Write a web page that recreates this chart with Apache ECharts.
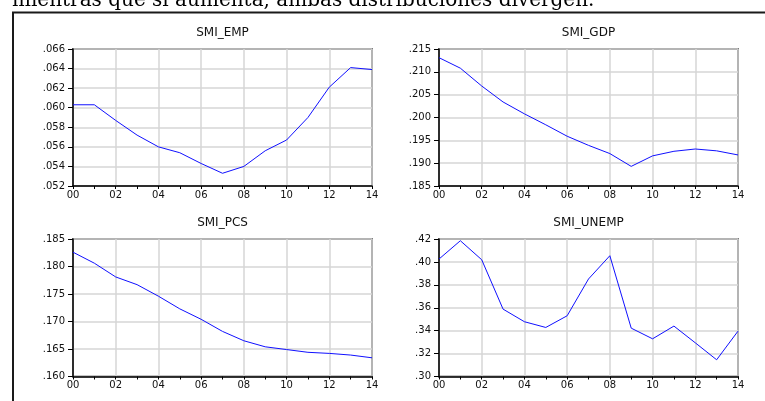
<!DOCTYPE html>
<html>
<head>
<meta charset="utf-8">
<script src="https://cdn.jsdelivr.net/npm/echarts@6/dist/echarts.min.js"></script>
<style>
html,body{margin:0;padding:0;background:#fff;}
#chart{width:765px;height:401px;}
</style>
</head>
<body>
<div id="chart"></div>
<script>
const years = ['00','01','02','03','04','05','06','07','08','09','10','11','12','13','14'];
const smiEmp = [0.0603,0.0603,0.0587,0.0572,0.0560,0.0554,0.0543,0.0533,0.0540,0.0556,0.0567,0.0590,0.0621,0.0641,0.0639];
const smiGdp = [0.2131,0.2108,0.2069,0.2034,0.2008,0.1984,0.1959,0.1939,0.1921,0.1893,0.1916,0.1926,0.1931,0.1927,0.1918];
const smiPcs = [0.1826,0.1806,0.1781,0.1767,0.1746,0.1723,0.1704,0.1682,0.1665,0.1654,0.1649,0.1644,0.1642,0.1639,0.1634];
const smiUnemp = [0.4025,0.4185,0.4019,0.3588,0.3478,0.3428,0.3530,0.3851,0.4054,0.3422,0.3329,0.3440,0.3294,0.3146,0.3396];
const panelTitles = ['SMI_EMP','SMI_GDP','SMI_PCS','SMI_UNEMP'];
const yMin = [0.052, 0.185, 0.160, 0.30];
const yMax = [0.066, 0.215, 0.185, 0.42];
const yStep = [0.002, 0.005, 0.005, 0.02];
const yDecimals = [3, 3, 3, 2];
const introText = 'mientras que si aumenta, ambas distribuciones divergen.';

const seriesData = [smiEmp, smiGdp, smiPcs, smiUnemp];
const grids = [
  {left: 73, top: 49, width: 299, height: 137},
  {left: 439, top: 49, width: 299, height: 137},
  {left: 73, top: 239, width: 299, height: 137.5},
  {left: 439, top: 239, width: 299, height: 137.5}
];
const font = 'DejaVu Sans';

const option = {
  animation: false,
  backgroundColor: '#fff',
  title: panelTitles.map((t, i) => ({
    text: t,
    left: grids[i].left + grids[i].width / 2,
    top: grids[i].top - 22,
    textAlign: 'center',
    padding: 0,
    textStyle: {fontFamily: font, fontSize: 12, fontWeight: 'normal', color: '#111'}
  })),
  grid: grids.map(g => Object.assign({show: true, borderColor: '#1a1a1a', borderWidth: 1.5, backgroundColor: 'transparent'}, g)),
  xAxis: grids.map((g, i) => ({
    type: 'category',
    gridIndex: i,
    data: years,
    boundaryGap: false,
    axisLine: {lineStyle: {color: '#000', width: 1.5}},
    axisTick: {show: true, interval: 0, length: 3, lineStyle: {color: '#000', width: 1}},
    axisLabel: {interval: 1, margin: 4, fontFamily: font, fontSize: 10, color: '#111'},
    splitLine: {show: true, interval: 1, lineStyle: {color: '#d6d6d6', width: 1.5}}
  })),
  yAxis: grids.map((g, i) => ({
    type: 'value',
    gridIndex: i,
    min: yMin[i],
    max: yMax[i],
    interval: yStep[i],
    axisLine: {show: true, lineStyle: {color: '#000', width: 1.5}},
    axisTick: {show: true, length: 5, lineStyle: {color: '#000', width: 1}},
    axisLabel: {
      margin: 8, fontFamily: font, fontSize: 10, color: '#111',
      formatter: v => v.toFixed(yDecimals[i]).replace(/^0/, '')
    },
    splitLine: {show: true, lineStyle: {color: '#d6d6d6', width: 1.5}}
  })),
  series: seriesData.map((d, i) => ({
    type: 'line',
    xAxisIndex: i,
    yAxisIndex: i,
    data: d,
    symbol: 'none',
    lineStyle: {color: '#1010ff', width: 1},
    z: 5
  })),
  graphic: [
    {type: 'text', left: 12, top: -9, style: {text: introText, font: '20px "DejaVu Serif"', fill: '#000'}},
    {type: 'line', shape: {x1: 12, y1: 12.5, x2: 765, y2: 12.5}, style: {stroke: '#1a1a1a', lineWidth: 2}},
    {type: 'line', shape: {x1: 13, y1: 12, x2: 13, y2: 401}, style: {stroke: '#1a1a1a', lineWidth: 2}}
  ]
};

const chart = echarts.init(document.getElementById('chart'), null, {renderer: 'canvas'});
chart.setOption(option);
</script>
</body>
</html>
